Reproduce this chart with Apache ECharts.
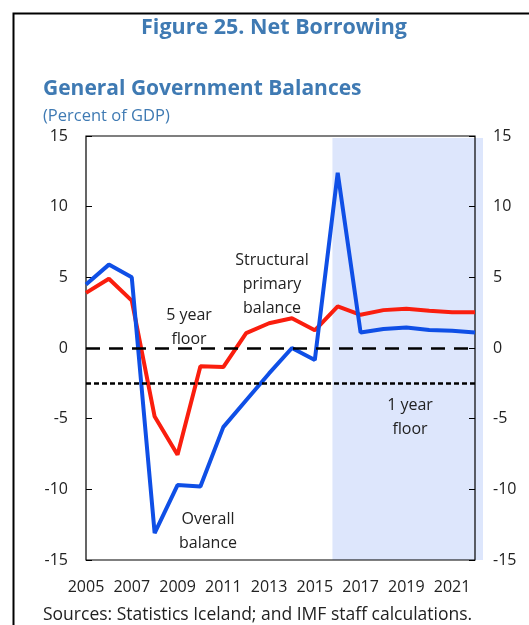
<!DOCTYPE html>
<html>
<head>
<meta charset="utf-8">
<script src="https://cdn.jsdelivr.net/npm/echarts@6/dist/echarts.min.js"></script>
<style>
  html, body { margin: 0; padding: 0; background: #fff; }
  #chart1 { width: 529px; height: 625px; }
</style>
</head>
<body>
<div id="chart1"></div>
<script>
// years on the x axis
var years = [2005, 2006, 2007, 2008, 2009, 2010, 2011, 2012, 2013, 2014, 2015, 2016, 2017, 2018, 2019, 2020, 2021, 2022];
// overall balance (blue)
var overallBalance = [4.5, 5.9, 5.0, -13.1, -9.7, -9.8, -5.6, -3.7, -1.8, 0.0, -0.85, 12.4, 1.1, 1.35, 1.45, 1.28, 1.22, 1.1];
// structural primary balance (red)
var structuralBalance = [3.9, 4.9, 3.35, -4.85, -7.55, -1.3, -1.35, 1.05, 1.75, 2.1, 1.25, 2.95, 2.35, 2.68, 2.77, 2.64, 2.53, 2.53];
// floors
var fiveYearFloor = 0;
var oneYearFloor = -2.5;
// projection shading range
var projStart = 2015.77, projEnd = 2022.35;
var projTop = 14.85, projBottom = -15;

function pairs(vals) {
    var out = [];
    for (var i = 0; i < years.length; i++) out.push([years[i], vals[i]]);
    return out;
}

var titleBlue = '#3f7ab3';
var txt = '#222';
var myChart = echarts.init(document.getElementById('chart1'));
var option = {
    animation: false,
    textStyle: { fontFamily: 'Open Sans' },
    graphic: [
        { type: 'rect', shape: { x: 13.5, y: 13.5, width: 540, height: 640 }, style: { fill: 'none', stroke: '#000', lineWidth: 2 }, silent: true },
        { type: 'text', x: 274, y: 28, style: { text: 'Figure 25. Net Borrowing', font: 'bold 21.5px "Open Sans"', fill: titleBlue, textAlign: 'center', textVerticalAlign: 'middle' } },
        { type: 'text', x: 43, y: 89, style: { text: 'General Government Balances', font: 'bold 21px "Open Sans"', fill: titleBlue, textVerticalAlign: 'middle' } },
        { type: 'text', x: 43, y: 116, style: { text: '(Percent of GDP)', font: '16.5px "Open Sans"', fill: titleBlue, textVerticalAlign: 'middle' } },
        { type: 'text', x: 43, y: 615, style: { text: 'Sources: Statistics Iceland; and IMF staff calculations.', font: '17.5px "Open Sans"', fill: txt, textVerticalAlign: 'middle' } },
        { type: 'text', x: 272, y: 284, style: { text: 'Structural\nprimary\nbalance', font: '16px "Open Sans"', fill: txt, textAlign: 'center', textVerticalAlign: 'middle', lineHeight: 24 } },
        { type: 'text', x: 189, y: 327, style: { text: '5 year\nfloor', font: '16px "Open Sans"', fill: txt, textAlign: 'center', textVerticalAlign: 'middle', lineHeight: 24 } },
        { type: 'text', x: 208, y: 531, style: { text: 'Overall\nbalance', font: '16px "Open Sans"', fill: txt, textAlign: 'center', textVerticalAlign: 'middle', lineHeight: 24 } },
        { type: 'text', x: 410, y: 417, style: { text: '1 year\nfloor', font: '16px "Open Sans"', fill: txt, textAlign: 'center', textVerticalAlign: 'middle', lineHeight: 24 } }
    ],
    grid: {
        left: 86, right: 54, top: 136, bottom: 65,
        show: true, borderColor: '#000', borderWidth: 1.2, backgroundColor: 'transparent'
    },
    xAxis: {
        type: 'value', min: 2005, max: 2022, interval: 2,
        splitLine: { show: false },
        axisLine: { show: false },
        axisTick: { show: false },
        axisLabel: {
            showMaxLabel: false, color: txt, fontSize: 16, margin: 19,
            formatter: function (v) { return String(v); }
        }
    },
    yAxis: [
        {
            type: 'value', min: -15, max: 15, interval: 5, position: 'left',
            splitLine: { show: false }, axisLine: { show: false },
            axisTick: { show: true, inside: true, length: 6, lineStyle: { color: '#000' } },
            axisLabel: { color: txt, fontSize: 16, margin: 18 }
        },
        {
            type: 'value', min: -15, max: 15, interval: 5, position: 'right',
            splitLine: { show: false }, axisLine: { show: false },
            axisTick: { show: true, inside: true, length: 6, lineStyle: { color: '#000' } },
            axisLabel: { color: txt, fontSize: 16, margin: 18 }
        }
    ],
    series: [
        {
            name: 'floors', type: 'line', data: [], z: 1,
            markLine: {
                silent: true, symbol: 'none', label: { show: false },
                data: [
                    { yAxis: fiveYearFloor, lineStyle: { color: '#000', width: 2.5, type: [14, 9] } },
                    { yAxis: oneYearFloor, lineStyle: { color: '#000', width: 2.5, type: [5, 3] } }
                ]
            }
        },
        {
            name: 'Structural primary balance', type: 'line', data: pairs(structuralBalance),
            showSymbol: false, lineStyle: { color: '#fa1e0e', width: 4 }, z: 3
        },
        {
            name: 'Overall balance', type: 'line', data: pairs(overallBalance),
            showSymbol: false, lineStyle: { color: '#0f4fe6', width: 4 }, z: 4
        }
    ]
};
myChart.setOption(option);

// projection shading: spills a little past the right axis, so place it from the axis scale
var p0 = myChart.convertToPixel({ xAxisIndex: 0, yAxisIndex: 0 }, [projStart, projTop]);
var p1 = myChart.convertToPixel({ xAxisIndex: 0, yAxisIndex: 0 }, [projEnd, projBottom]);
var g = option.graphic.slice();
g.unshift({
    type: 'rect', z: -5, silent: true,
    shape: { x: p0[0], y: p0[1], width: p1[0] - p0[0], height: p1[1] - p0[1] },
    style: { fill: '#dde6fc' }
});
myChart.setOption({ graphic: g }, { replaceMerge: ['graphic'] });
</script>
</body>
</html>
